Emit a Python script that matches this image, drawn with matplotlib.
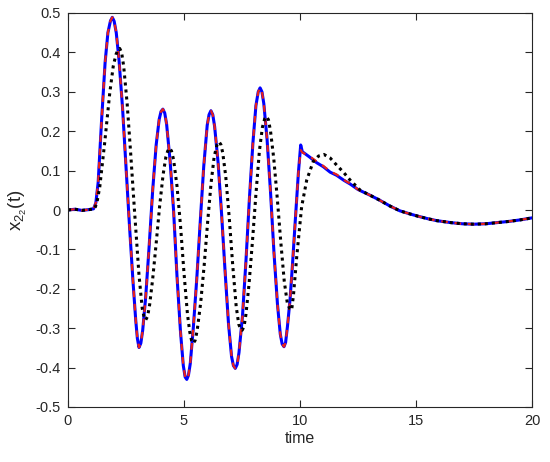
import matplotlib
matplotlib.use("Agg")
import matplotlib.pyplot as plt

# time samples and curve values
t_main = [0.0, 0.3, 0.6, 0.9, 1.1, 1.2, 1.3, 1.45, 1.6, 1.72, 1.83, 1.91, 1.99, 2.08, 2.2,
          2.35, 2.5, 2.65, 2.8, 2.92, 2.99, 3.06, 3.14, 3.22, 3.35, 3.5, 3.65, 3.8, 3.93,
          4.01, 4.09, 4.17, 4.25, 4.4, 4.55, 4.7, 4.85, 4.97, 5.05, 5.12, 5.19, 5.27, 5.4,
          5.55, 5.7, 5.85, 6.0, 6.08, 6.16, 6.24, 6.32, 6.47, 6.62, 6.77, 6.92, 7.05, 7.13,
          7.21, 7.29, 7.37, 7.52, 7.67, 7.82, 7.97, 8.1, 8.2, 8.28, 8.36, 8.44, 8.58, 8.73,
          8.88, 9.03, 9.15, 9.23, 9.31, 9.38, 9.46, 9.57, 9.68, 9.78, 9.93, 10.03, 10.1,
          10.4, 10.72, 11.0, 11.3, 11.58, 11.9, 12.16, 12.5, 13.0, 13.4, 13.88, 14.3,
          14.74, 15.1, 15.5, 15.89, 16.5, 17.0, 17.5, 18.0, 18.5, 19.0, 19.5, 20.0]

x_blue = [0.000, 0.002, -0.001, 0.001, 0.003, 0.018, 0.070, 0.230, 0.375, 0.450, 0.480,
          0.489, 0.479, 0.450, 0.380, 0.260, 0.110, -0.040, -0.180, -0.280, -0.326,
          -0.349, -0.338, -0.305, -0.220, -0.090, 0.050, 0.165, 0.230, 0.250, 0.256,
          0.246, 0.218, 0.125, 0.000, -0.170, -0.310, -0.395, -0.424, -0.430, -0.420,
          -0.390, -0.300, -0.175, -0.030, 0.110, 0.215, 0.242, 0.252, 0.242, 0.212,
          0.120, -0.010, -0.155, -0.290, -0.372, -0.395, -0.402, -0.392, -0.362, -0.270,
          -0.130, 0.030, 0.170, 0.265, 0.300, 0.310, 0.300, 0.270, 0.180, 0.045, -0.110,
          -0.240, -0.315, -0.340, -0.347, -0.336, -0.295, -0.228, -0.135, -0.042, 0.094,
          0.165, 0.148, 0.135, 0.120, 0.110, 0.096, 0.088, 0.075, 0.066, 0.052, 0.038,
          0.026, 0.010, -0.002, -0.010, -0.016, -0.022, -0.027, -0.032, -0.035, -0.036,
          -0.035, -0.032, -0.029, -0.025, -0.020]

x_red = [0.000, 0.002, -0.001, 0.001, 0.003, 0.018, 0.070, 0.230, 0.375, 0.450, 0.480,
         0.489, 0.479, 0.450, 0.380, 0.260, 0.110, -0.040, -0.180, -0.280, -0.326,
         -0.349, -0.338, -0.305, -0.220, -0.090, 0.050, 0.165, 0.230, 0.250, 0.256,
         0.246, 0.218, 0.125, 0.000, -0.170, -0.310, -0.395, -0.424, -0.430, -0.420,
         -0.390, -0.300, -0.175, -0.030, 0.110, 0.215, 0.242, 0.252, 0.242, 0.212,
         0.120, -0.010, -0.155, -0.290, -0.372, -0.395, -0.402, -0.392, -0.362, -0.270,
         -0.130, 0.030, 0.170, 0.265, 0.300, 0.310, 0.300, 0.270, 0.180, 0.045, -0.110,
         -0.240, -0.315, -0.340, -0.347, -0.336, -0.295, -0.228, -0.135, -0.042, 0.094,
         0.152, 0.146, 0.137, 0.123, 0.112, 0.098, 0.090, 0.076, 0.067, 0.052, 0.038,
         0.026, 0.010, -0.002, -0.010, -0.016, -0.022, -0.027, -0.032, -0.035, -0.036,
         -0.035, -0.032, -0.029, -0.025, -0.020]

t_black = [0.0, 0.3, 0.6, 0.9, 1.15, 1.25, 1.37, 1.58, 1.8, 1.95, 2.07, 2.15, 2.23, 2.31,
           2.4, 2.55, 2.7, 2.87, 3.06, 3.2, 3.28, 3.35, 3.43, 3.52, 3.65, 3.8, 3.95, 4.1,
           4.22, 4.3, 4.38, 4.46, 4.55, 4.7, 4.85, 5.0, 5.15, 5.25, 5.33, 5.4, 5.48, 5.57,
           5.72, 5.87, 6.02, 6.17, 6.3, 6.42, 6.51, 6.59, 6.67, 6.8, 6.95, 7.1, 7.25, 7.36,
           7.44, 7.51, 7.59, 7.67, 7.8, 7.95, 8.1, 8.25, 8.38, 8.48, 8.56, 8.64, 8.73,
           8.87, 9.02, 9.17, 9.32, 9.45, 9.56, 9.64, 9.72, 9.86, 10.07, 10.29, 10.57, 10.8,
           11.03, 11.3, 11.58, 11.9, 12.16, 12.6, 13.0, 13.4, 13.88, 14.3, 14.74, 15.1,
           15.5, 15.89, 16.5, 17.0, 17.5, 18.0, 18.5, 19.0, 19.5, 20.0]

x_black = [0.000, 0.002, -0.001, 0.001, 0.003, 0.020, 0.059, 0.170, 0.297, 0.365, 0.395,
           0.406, 0.410, 0.400, 0.365, 0.270, 0.145, -0.005, -0.165, -0.250, -0.272,
           -0.279, -0.270, -0.240, -0.175, -0.085, 0.010, 0.090, 0.135, 0.150, 0.157,
           0.150, 0.128, 0.060, -0.040, -0.160, -0.265, -0.310, -0.332, -0.338, -0.331,
           -0.305, -0.235, -0.140, -0.030, 0.070, 0.135, 0.165, 0.173, 0.166, 0.145,
           0.085, -0.020, -0.140, -0.245, -0.290, -0.302, -0.305, -0.295, -0.265, -0.190,
           -0.080, 0.040, 0.150, 0.210, 0.232, 0.237, 0.229, 0.200, 0.130, 0.030, -0.080,
           -0.180, -0.235, -0.251, -0.254, -0.215, -0.118, 0.008, 0.076, 0.123, 0.137,
           0.141, 0.132, 0.114, 0.094, 0.076, 0.050, 0.038, 0.026, 0.010, -0.002, -0.010,
           -0.016, -0.022, -0.027, -0.032, -0.035, -0.036, -0.035, -0.032, -0.029,
           -0.025, -0.020]

x_ticks = [0, 5, 10, 15, 20]
y_ticks = [-0.5, -0.4, -0.3, -0.2, -0.1, 0, 0.1, 0.2, 0.3, 0.4, 0.5]
y_ticklabels = ['-0.5', '-0.4', '-0.3', '-0.2', '-0.1', '0', '0.1', '0.2', '0.3', '0.4', '0.5']

plt.rcParams['font.family'] = ['Liberation Sans', 'DejaVu Sans']
plt.rcParams['mathtext.fontset'] = 'custom'
plt.rcParams['mathtext.rm'] = 'Liberation Sans'
plt.rcParams['mathtext.it'] = 'Liberation Sans'

fig = plt.figure(figsize=(5.5, 4.62), dpi=100)
ax = fig.add_axes([68 / 550, 1 - 407 / 462, 464 / 550, 394 / 462])

ax.plot(t_main, x_blue, color='#0000ff', lw=2.2, solid_joinstyle='round')
ax.plot(t_main, x_red, color='#e8201a', lw=1.6, linestyle=(0, (3, 3)))
ax.plot(t_black, x_black, color='black', lw=2.2, linestyle=(0, (1, 1.3)))

ax.set_xlim(0, 20)
ax.set_ylim(-0.5, 0.5)
ax.set_xticks(x_ticks)
ax.set_yticks(y_ticks)
ax.set_yticklabels(y_ticklabels)

for s in ax.spines.values():
    s.set_color('#262626')
    s.set_linewidth(0.8)
ax.tick_params(direction='in', length=5, width=0.8, colors='#262626',
               labelsize=10.5, top=True, right=True, pad=5)

ax.set_xlabel('time', fontsize=11.5, color='#262626', labelpad=2)
ax.set_ylabel(r'$\mathregular{x_{2_2}(t)}$', fontsize=13.5, color='#262626', labelpad=5)

fig.savefig('out.png', dpi=100)
